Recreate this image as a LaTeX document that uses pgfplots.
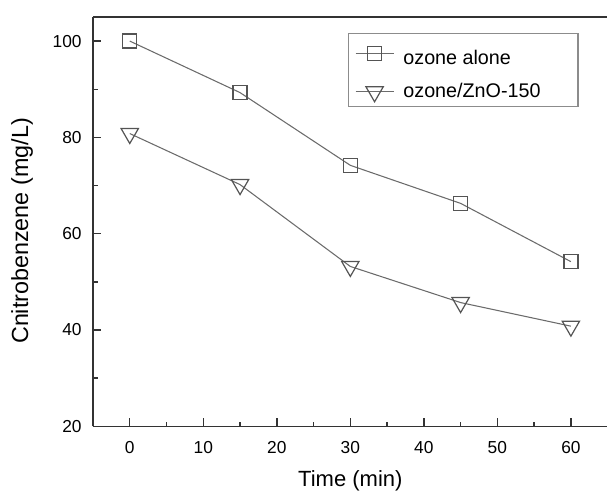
\documentclass[border=0pt]{standalone}
\usepackage{fontspec}
\setmainfont{Liberation Sans}
\usepackage{pgfplots}
\pgfplotsset{compat=1.18}
\definecolor{lgray}{gray}{0.42}
\definecolor{mgray}{gray}{0.33}
\begin{document}
\begin{tikzpicture}
\begin{axis}[
    name=ax,
    scale only axis,
    width=386pt, height=307pt,
    xmin=-5, xmax=65, ymin=20, ymax=105,
    axis x line*=box, axis y line*=left,
    axis line style={line width=1.1pt, black!80},
    xtick={0,10,...,60}, minor x tick num=1,
    ytick={20,40,...,100}, minor y tick num=1,
    xtick pos=bottom, ytick pos=left,
    tick align=inside,
    major tick length=6pt, minor tick length=3.5pt,
    tick style={line width=1.1pt, black!80},
    /pgf/number format/assume math mode=true,
    ticklabel style={font=\fontsize{13}{15}\selectfont},
    xticklabel style={yshift=-8pt},
    yticklabel style={xshift=-5pt},
    xlabel={Time (min)},
    label style={font=\fontsize{16.5}{19}\selectfont},
    xlabel style={yshift=-5.5pt},
    ylabel={\fontsize{17.5}{20}\selectfont Cnitrobenzene (mg/L)},
    ylabel style={yshift=8pt, xshift=-7pt},
    legend style={at={(0.495,0.961)}, anchor=north west,
        draw=black!45, line width=1pt, font=\fontsize{14.8}{17}\selectfont,
        row sep=9pt, column sep=5pt, inner xsep=5pt, inner ysep=3pt},
    legend image code/.code={
        \draw[mark repeat=2,mark phase=2] plot coordinates {(0cm,0cm) (0.5cm,0cm) (1.0cm,0cm)};},
    legend cell align=left,
    clip=false,
]
\addplot[lgray, line width=0.8pt, mark=square, mark size=5.25pt,
    mark options={draw=mgray, fill=white, line width=0.9pt}]
    coordinates {(0,100) (15,89.3) (30,74.2) (45,66.3) (60,54.2)};
\addlegendentry{\makebox[124pt][l]{\rule{0pt}{18pt}ozone alone}}
\addplot[lgray, line width=0.8pt, mark=triangle, mark size=7.5pt,
    mark options={draw=mgray, fill=white, line width=0.9pt, rotate=180}]
    coordinates {(0,80.8) (15,70.2) (30,53.2) (45,45.7) (60,40.8)};
\addlegendentry{\makebox[124pt][l]{ozone/ZnO-150}}
\end{axis}
\pgfresetboundingbox
\useasboundingbox ([xshift=-69.75pt,yshift=-48pt]ax.south west) rectangle ([xshift=385.5pt,yshift=12.75pt]ax.north west);
\end{tikzpicture}
\end{document}
